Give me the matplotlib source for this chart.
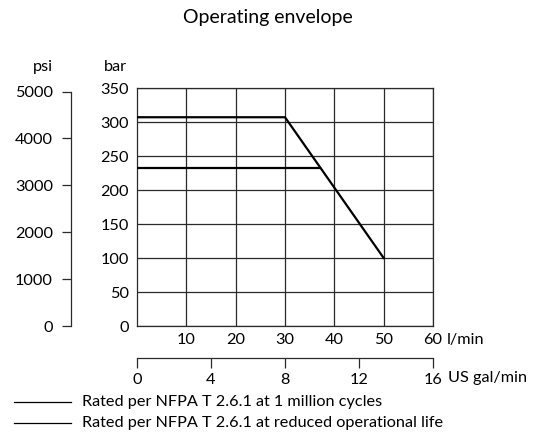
import numpy as np
import matplotlib
matplotlib.use("Agg")
import matplotlib.pyplot as plt

plt.rcParams["font.family"] = ["Lato", "DejaVu Sans"]

# data
flow_lpm_1m = [0, 30, 50]
pressure_bar_1m = [307, 307, 100]
flow_lpm_reduced = [0, 37.1]
pressure_bar_reduced = [233, 233]

bar_ticks = [0, 50, 100, 150, 200, 250, 300, 350]
lpm_ticks = [10, 20, 30, 40, 50, 60]
psi_ticks = [0, 1000, 2000, 3000, 4000, 5000]
gal_ticks = [0, 4, 8, 12, 16]

legend_labels = [
    "Rated per NFPA T 2.6.1 at 1 million cycles",
    "Rated per NFPA T 2.6.1 at reduced operational life",
]

BAR_TO_PSI = 14.5038
W, H = 533, 432
FS = 11.7

fig = plt.figure(figsize=(W / 100, H / 100), dpi=100)

left, right, bottom, top = 137, 433, 326, 88
ax = fig.add_axes([left / W, 1 - bottom / H, (right - left) / W, (bottom - top) / H])
ax.plot(flow_lpm_1m, pressure_bar_1m, color="black", lw=1.6, zorder=3)
ax.plot(flow_lpm_reduced, pressure_bar_reduced, color="black", lw=1.6, zorder=3)
ax.set_xlim(0, 60)
ax.set_ylim(0, 350)
ax.set_xticks(lpm_ticks)
ax.set_yticks(bar_ticks)
ax.grid(True, color="#2a2a2a", lw=0.9)
ax.tick_params(axis="x", length=0, labelsize=FS, pad=5)
ax.tick_params(axis="y", length=0, labelsize=FS, pad=6)
for s in ax.spines.values():
    s.set_linewidth(0.9)
    s.set_color("#2a2a2a")
ax.text(447 / W, 1 - 340 / H, "l/min", transform=fig.transFigure, fontsize=FS, va="center", ha="left")
ax.text(115 / W, 1 - 67 / H, "bar", transform=fig.transFigure, fontsize=FS, ha="center", va="center")

# psi axis
psi_x = 71
axp = fig.add_axes([psi_x / W, 1 - bottom / H, 0.01, (bottom - top) / H])
axp.set_ylim(0, 350 * BAR_TO_PSI)
axp.set_yticks(psi_ticks)
axp.set_xticks([])
for k in ["top", "right", "bottom"]:
    axp.spines[k].set_visible(False)
axp.spines["left"].set_bounds(0, 5000)
axp.spines["left"].set_linewidth(0.9)
axp.spines["left"].set_color("#2a2a2a")
axp.patch.set_visible(False)
axp.tick_params(axis="y", length=6.5, width=0.9, color="#2a2a2a", labelsize=FS, pad=6.5)
axp.text(43 / W, 1 - 67 / H, "psi", transform=fig.transFigure, fontsize=FS, ha="center", va="center")

# gallon axis
gal_y = 358
axg = fig.add_axes([left / W, 1 - gal_y / H, (right - left) / W, 0.01])
axg.set_xlim(0, 16)
axg.set_xticks(gal_ticks)
axg.set_yticks([])
for k in ["top", "right", "left"]:
    axg.spines[k].set_visible(False)
axg.spines["bottom"].set_linewidth(0.9)
axg.spines["bottom"].set_color("#2a2a2a")
axg.patch.set_visible(False)
axg.tick_params(axis="x", length=7, width=0.9, color="#2a2a2a", labelsize=FS, pad=3.5)
axg.text(448 / W, 1 - 378 / H, "US gal/min", transform=fig.transFigure, fontsize=FS, ha="left", va="center")

# title
fig.text(268 / W, 1 - 18 / H, "Operating envelope", fontsize=14, ha="center", va="center")

# legend
for i, lab in enumerate(legend_labels):
    y = 1 - (402 + 21 * i) / H
    fig.add_artist(plt.Line2D([14 / W, 71 / W], [y, y], color="black", lw=0.9))
    fig.text(82 / W, y, lab, fontsize=FS, ha="left", va="center")

fig.savefig("out.png", dpi=100)
